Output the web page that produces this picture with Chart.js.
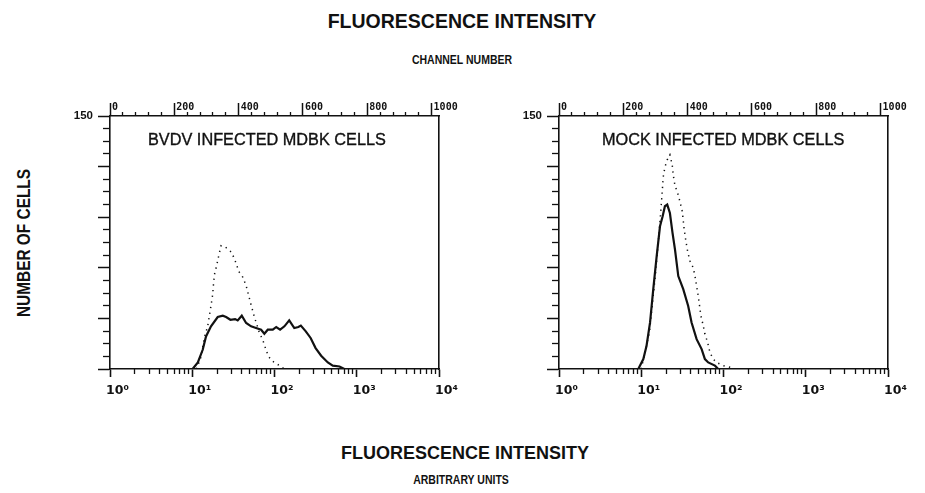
<!DOCTYPE html>
<html>
<head>
<meta charset="utf-8">
<script src="https://cdn.jsdelivr.net/npm/chart.js@4.4.1/dist/chart.umd.min.js"></script>
<style>
  body { margin: 0; background: #fff; width: 925px; height: 493px; position: relative; overflow: hidden;
         font-family: "Liberation Sans", Arial, sans-serif; color: #111; }
  .t { position: absolute; white-space: nowrap; line-height: 1; }
  .c { transform: translateX(-50%); }
  .n { transform: translateX(-50%) scaleX(0.84); }
  canvas { position: absolute; }
</style>
</head>
<body>

<div class="t c" style="left:462px;top:12px;font-size:19.5px;font-weight:bold">FLUORESCENCE INTENSITY</div>
<div class="t n" style="left:462px;top:54px;font-size:12.5px;font-weight:bold">CHANNEL NUMBER</div>
<div class="t c" style="left:465px;top:444px;font-size:18px;font-weight:bold">FLUORESCENCE INTENSITY</div>
<div class="t n" style="left:461px;top:474px;font-size:12.5px;font-weight:bold">ARBITRARY UNITS</div>
<div class="t" style="left:25px;top:243px;font-size:17.5px;font-weight:bold;transform:translate(-50%,-50%) rotate(-90deg) scaleX(0.88)">NUMBER OF CELLS</div>

<canvas id="bvdvChart" width="409" height="329" style="left:60px;top:80px"></canvas>
<canvas id="mockChart" width="409" height="329" style="left:509px;top:80px"></canvas>

<div class="t" style="left:148px;top:131px;font-size:16.3px;-webkit-text-stroke:0.35px #111">BVDV INFECTED MDBK CELLS</div>
<div class="t" style="left:602px;top:131px;font-size:16.3px;-webkit-text-stroke:0.35px #111">MOCK INFECTED MDBK CELLS</div>

<script>
// axis ticks
const decadeTicks  = [1, 10, 100, 1000, 10000];
const decadeLabels = ['10⁰', '10¹', '10²', '10³', '10⁴'];
const channelTicks  = [0, 200, 400, 600, 800, 1000];
const channelLabels = ['0', '200', '400', '600', '800', '1000'];
const countTicks  = [0, 30, 60, 90, 120, 150];
const countLabels = ['', '', '', '', '', '150'];

// BVDV infected cells: solid = stained, dotted = control (intensity in arbitrary units, count of cells)
const bvdvSolidX = [10.1, 11.7, 13.4, 14.7, 16.9, 20.4, 23.5, 25.8, 29.1, 33.2, 35.7, 40.0, 45.2, 51.9, 59.7, 68.7, 75.3,
                    82.8, 95.3, 105, 117, 132, 151, 174, 195, 209, 240, 275, 316, 369, 445, 511, 617, 708];
const bvdvSolidY = [0, 3.9, 11.4, 19.3, 25.3, 30.8, 31.6, 30.8, 29.2, 29.6, 28.8, 31.6, 27.3, 25.3, 24.3, 23.3, 20.9,
                    23.3, 23.3, 24.9, 23.3, 25.3, 28.8, 24.3, 24.9, 25.7, 22.3, 18.4, 12.4, 7.9, 3.9, 2, 1.5, 0];
const bvdvDotX = [11.2, 12.6, 14.1, 15.4, 16.9, 17.7, 18.1, 18.6, 19.9, 21.0, 22.4, 25.3, 30.2, 34.1, 36.7, 41.1,
                  45.2, 48.6, 51.9, 57.0, 65.6, 71.9, 76.9, 84.3, 95.3, 115, 132];
const bvdvDotY = [0, 6, 19, 25.3, 37.5, 44, 50, 55.9, 61.8, 67.2, 73.1, 72.3, 69.1, 62.8, 57.9, 54.5,
                  49.4, 43.4, 38.1, 30.8, 21.3, 17.4, 13, 7.5, 4.5, 2, 0];

// mock infected cells
const mockSolidX = [9.2, 10.6, 11.6, 12.8, 14.0, 15.4, 16.9, 18.2, 19.4, 20.7, 22.3, 24.0, 25.7, 28.2, 32.4, 37.2,
                    40.9, 47.1, 54.2, 59.4, 65.2, 78.7, 86.3];
const mockSolidY = [0, 5.9, 13.8, 27.6, 47.3, 66.9, 84.6, 90.5, 96.5, 97.5, 92.5, 80.7, 70.9, 55.1, 47.3, 37.4,
                    27.6, 17.7, 11.8, 5.9, 3.9, 2, 0];
const mockDotX = [10.0, 12.6, 14.8, 16.6, 17.7, 18.5, 19.4, 20.7, 22.3, 23.8, 24.5, 25.7, 27.7, 29.5, 31.5, 33.3,
                  34.9, 36.6, 39.1, 42.9, 45.0, 47.1, 49.3, 53.1, 56.8, 59.4, 64.1, 68.4, 75.0, 82.4, 99.1, 120, 141];
const mockDotY = [0, 22, 55, 82.7, 100.4, 113.8, 119.7, 124, 127, 121, 115, 108.7, 104.4, 99.4, 93.5, 82.7,
                  75.8, 69.9, 64, 60, 55.1, 49.2, 43.3, 31.5, 25.6, 20.7, 15.8, 9.8, 5.9, 3.9, 2, 1, 0];

const INK = '#111';

// minor tick positions
const decadeMinor = [];
decadeTicks.slice(0, -1).forEach(d => { for (let k = 2; k <= 9; k++) decadeMinor.push(d * k); });
const channelMinor = [];
for (let c = 40; c < 1000; c += 40) if (c % 200) channelMinor.push(c);
const countMinor = [];
for (let v = 7.5; v < 150; v += 7.5) if (v % 30) countMinor.push(v);

const setTicks = list => s => { s.ticks = list.map(value => ({ value })); };
const minorAxis = (position, type, min, max, list, len) => ({
  type, position, min, max, weight: 0,
  afterBuildTicks: setTicks(list),
  afterFit: s => { if (s.isHorizontal()) s.height = 0; else s.width = 0; },
  border: { display: false },
  grid: { drawOnChartArea: false, tickLength: len, tickColor: INK, tickWidth: 1.3 },
  ticks: { display: false }
});

function makePanel(id, solidX, solidY, dotX, dotY) {
  const pts = (xs, ys) => xs.map((x, i) => ({ x, y: ys[i] }));
  new Chart(document.getElementById(id), {
    type: 'line',
    data: {
      datasets: [
        { data: pts(dotX, dotY), borderColor: INK, borderWidth: 1.5, borderDash: [1.3, 4.4], pointRadius: 0, tension: 0 },
        { data: pts(solidX, solidY), borderColor: INK, borderWidth: 2.2, pointRadius: 0, tension: 0 }
      ]
    },
    options: {
      responsive: false, animation: false, events: [],
      layout: { padding: { left: 0, top: 0, bottom: 0, right: 30 } },
      plugins: { legend: { display: false }, tooltip: { enabled: false } },
      scales: {
        x: {
          type: 'logarithmic', position: 'bottom', min: 1, max: 10000, weight: 1,
          afterBuildTicks: setTicks(decadeTicks),
          afterFit: s => { s.height = 40; },
          border: { color: INK, width: 1.6 },
          grid: { drawOnChartArea: false, tickLength: 8, tickColor: INK, tickWidth: 1.6 },
          ticks: { autoSkip: false, maxRotation: 0, align: 'start', labelOffset: -4, padding: 6, color: INK,
                   font: { family: 'DejaVu Sans', size: 12.5, weight: 'bold' },
                   callback: (v, i) => decadeLabels[i] }
        },
        x2: minorAxis('bottom', 'logarithmic', 1, 10000, decadeMinor, 5),
        xt: {
          type: 'linear', position: 'top', min: 0, max: 1023, weight: 1,
          afterBuildTicks: setTicks(channelTicks),
          afterFit: s => { s.height = 36; },
          border: { color: INK, width: 1.6 },
          grid: { drawOnChartArea: false, tickLength: 13, tickColor: INK, tickWidth: 1.5 },
          ticks: { autoSkip: false, maxRotation: 0, align: 'start', labelOffset: 2, padding: -10, color: INK,
                   font: { family: 'DejaVu Sans Mono', size: 10, weight: 'bold' },
                   callback: (v, i) => channelLabels[i] }
        },
        xt2: minorAxis('top', 'linear', 0, 1023, channelMinor, 4),
        y: {
          type: 'linear', position: 'left', min: 0, max: 150, weight: 1,
          afterBuildTicks: setTicks(countTicks),
          afterFit: s => { s.width = 50; },
          border: { color: INK, width: 1.6 },
          grid: { drawOnChartArea: false, tickLength: 12, tickColor: INK, tickWidth: 1.5 },
          ticks: { autoSkip: false, padding: 5, color: INK,
                   font: { family: 'Liberation Sans', size: 11.5, weight: 'bold' },
                   callback: (v, i) => countLabels[i] }
        },
        y2: minorAxis('left', 'linear', 0, 150, countMinor, 7),
        yr: {
          type: 'linear', position: 'right', min: 0, max: 150, weight: 0,
          afterFit: s => { s.width = 0; },
          border: { color: INK, width: 1.6 },
          grid: { drawOnChartArea: false, drawTicks: false },
          ticks: { display: false }
        }
      }
    }
  });
}

makePanel('bvdvChart', bvdvSolidX, bvdvSolidY, bvdvDotX, bvdvDotY);
makePanel('mockChart', mockSolidX, mockSolidY, mockDotX, mockDotY);
</script>
</body>
</html>
